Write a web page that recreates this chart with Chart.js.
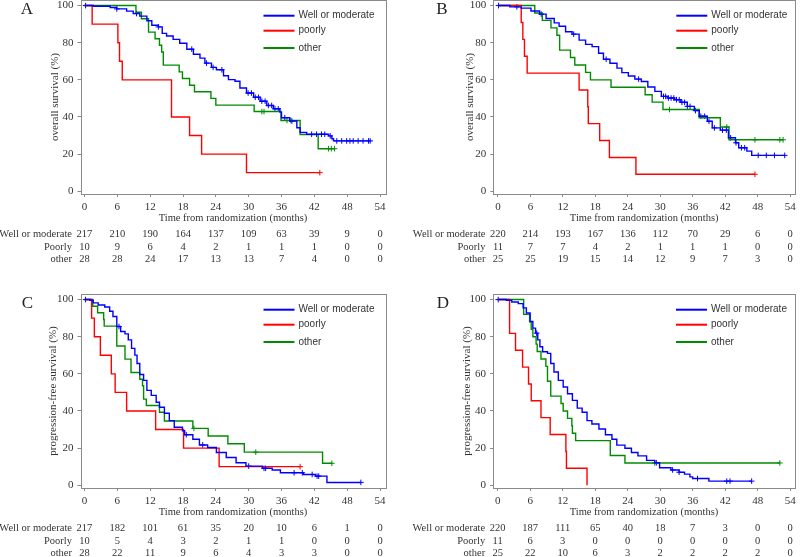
<!DOCTYPE html>
<html>
<head>
<meta charset="utf-8">
<script src="https://cdn.jsdelivr.net/npm/chart.js@4.4.1/dist/chart.umd.min.js"></script>
<style>
html, body { margin: 0; padding: 0; background: #fff; width: 800px; height: 557px; overflow: hidden; position: relative; }
canvas { position: absolute; }
</style>
</head>
<body>
<canvas id="panel-a" width="400" height="282" style="left:0;top:-14px"></canvas>
<canvas id="panel-b" width="400" height="282" style="left:400px;top:-14px"></canvas>
<canvas id="panel-c" width="400" height="282" style="left:0;top:280px"></canvas>
<canvas id="panel-d" width="400" height="282" style="left:400px;top:280px"></canvas>
<script>
// tick labels
const months = [0, 6, 12, 18, 24, 30, 36, 42, 48, 54];
const yTicks = [0, 20, 40, 60, 80, 100];

const legendNames = ['Well or moderate', 'poorly', 'other'];
const rowNames = ['Well or moderate', 'Poorly', 'other'];
const lineColors = ['#0000ff', '#ff0000', '#008c00'];

// ---- A: overall survival, [month, %]
const osA_well = [[0,100],[1.6,99.6],[4.7,99.0],[5.9,98.2],[7.7,97.0],[8.9,95.7],[10.1,94.3],[11.4,91.8],[12.3,89.4],[13.5,88.5],[14.2,85.0],[15.0,83.6],[16.2,81.8],[17.4,79.7],[18.7,76.5],[19.9,73.8],[21.1,71.7],[22.0,69.0],[23.2,66.7],[24.1,65.4],[25.4,62.2],[26.3,60.1],[27.5,59.2],[28.4,55.6],[29.6,52.9],[30.9,50.6],[32.1,48.5],[33.3,46.2],[34.5,44.4],[35.7,42.6],[36.0,39.6],[37.5,37.8],[38.8,34.2],[39.4,31.6],[40.6,30.7],[44.6,29.8],[45.2,28.3],[45.5,27.1],[52.2,27.1]];
const osA_poorly = [[0,100],[1.4,90],[6.1,80],[6.4,70],[6.9,60],[15.9,40],[19.2,30],[21.4,20],[29.6,10],[43.0,10]];
const osA_other = [[0,100],[9.4,96.4],[10.4,92.9],[11.7,85.7],[12.9,82.1],[13.7,78.6],[14.1,75.0],[14.4,67.9],[17.3,64.3],[17.9,60.7],[19.2,57.1],[20.1,53.6],[23.1,50.0],[24.0,46.4],[31.0,42.9],[35.9,38.1],[39.4,30.5],[42.7,22.9],[45.7,22.9]];
const osA_wellCens = [0.2,5.9,9.5,13.5,19.6,22.3,23.5,25.1,29.9,30.5,31.2,31.8,32.4,33.0,33.6,34.2,34.8,35.4,36.6,37.9,41.5,42.4,43.3,43.9,44.9,46.1,47.0,47.9,48.5,49.1,50.0,50.9,51.9,52.2];
const osA_poorlyCens = [43.0];
const osA_otherCens = [32.4,32.8,37.0,37.7,44.6,45.1,45.7];
const riskA_well = [217,210,190,164,137,109,63,39,9,0];
const riskA_poorly = [10,9,6,4,2,1,1,1,0,0];
const riskA_other = [28,28,24,17,13,13,7,4,0,0];

// ---- B: overall survival
const osB_well = [[0,100],[2.2,99.3],[4.3,98.6],[6.1,97.1],[7.7,95.4],[8.9,93.0],[10.4,90.7],[11.3,88.9],[12.5,85.9],[13.7,84.6],[15.0,81.4],[16.2,79.1],[17.4,77.9],[18.6,74.3],[19.5,71.1],[20.7,68.9],[22.0,66.3],[22.9,63.9],[24.1,62.1],[25.3,60.4],[26.5,59.1],[27.7,56.1],[29.0,53.8],[30.2,51.1],[31.4,50.2],[32.6,49.3],[33.8,47.9],[35.0,45.7],[36.3,43.4],[37.2,40.4],[38.7,37.7],[39.6,34.1],[41.1,32.9],[42.6,28.8],[43.9,26.1],[44.5,23.4],[46.0,21.6],[46.9,19.3],[53.0,19.3]];
const osB_poorly = [[0,100],[4.3,90.9],[4.6,81.8],[4.9,72.7],[5.4,63.6],[15.0,54.5],[16.6,45.5],[16.7,36.4],[18.8,27.3],[20.6,18.2],[25.5,9.1],[47.5,9.1]];
const osB_other = [[0,100],[6.8,96],[8.2,92],[9.8,88],[10.9,84],[11.4,76],[13.4,72],[14.2,68],[16.2,64],[17.1,60],[20.9,56],[27.2,52],[28.5,48],[30.5,44],[37.2,39.6],[41.1,34.6],[42.7,27.7],[52.7,27.7]];
const osB_wellCens = [0.1,3.5,8.0,14.0,20.0,26.0,30.6,31.0,31.5,32.0,32.5,33.0,33.5,34.0,34.5,35.0,35.5,36.5,37.5,38.2,39.0,40.0,41.5,42.2,43.0,44.0,45.0,45.6,48.1,49.6,51.1,53.0];
const osB_poorlyCens = [47.5];
const osB_otherCens = [31.7,42.3,47.5,52.1,52.7];
const riskB_well = [220,214,193,167,136,112,70,29,6,0];
const riskB_poorly = [11,7,7,4,2,1,1,1,0,0];
const riskB_other = [25,25,19,15,14,12,9,7,3,0];

// ---- C: progression-free survival
const pfsC_well = [[0,100],[1.0,99.6],[1.6,98.2],[2.5,97.1],[3.7,96.0],[4.6,93.7],[5.2,90.9],[5.9,85.5],[6.6,82.8],[7.4,81.5],[8.0,78.3],[8.6,73.7],[9.2,70.1],[9.6,65.6],[10.1,59.6],[10.8,56.5],[11.4,51.1],[12.2,48.4],[13.1,44.7],[13.7,42.0],[14.6,38.8],[15.5,34.8],[16.4,31.2],[17.9,29.3],[18.3,27.2],[19.8,24.8],[21.0,21.7],[22.5,20.3],[24.1,17.6],[25.9,14.9],[27.7,12.1],[29.5,10.3],[32.5,9.1],[34.3,8.2],[35.8,6.7],[40.0,5.8],[42.2,4.9],[44.3,1.5],[50.5,1.5]];
const pfsC_poorly = [[0,100],[1.3,90],[1.8,80],[2.9,70],[4.9,60],[5.6,50],[7.7,40],[13.0,30],[18.1,20],[24.6,10],[39.4,10]];
const pfsC_other = [[0,100],[1.5,96.4],[2.4,92.9],[3.5,89.3],[3.6,85.7],[5.9,75.0],[7.4,67.9],[8.5,60.7],[10.1,57.1],[10.6,53.6],[10.8,46.4],[11.3,42.9],[13.7,39.3],[14.6,34.6],[19.8,30.6],[22.6,26.5],[26.2,22.3],[29.2,17.8],[43.5,11.8],[45.2,11.8]];
const pfsC_wellCens = [0.2,6.3,18.6,21.6,30.0,32.8,33.1,38.3,39.8,41.6,42.5,42.8,50.5];
const pfsC_poorlyCens = [39.4];
const pfsC_otherCens = [20.0,31.3,45.2];
const riskC_well = [217,182,101,61,35,20,10,6,1,0];
const riskC_poorly = [10,5,4,3,2,1,1,0,0,0];
const riskC_other = [28,22,11,9,6,4,3,3,0,0];

// ---- D: progression-free survival
const pfsD_well = [[0,100],[1.6,99.6],[2.6,98.7],[3.8,97.8],[4.7,95.5],[5.3,92.8],[6.0,88.2],[6.5,84.6],[7.0,81.9],[7.4,78.3],[7.8,74.6],[8.3,71.9],[9.2,71.0],[9.8,65.6],[10.4,61.0],[11.2,56.5],[12.1,52.9],[12.9,49.3],[13.8,45.7],[14.7,41.5],[15.6,39.3],[16.5,34.8],[17.4,33.0],[18.7,30.3],[19.9,27.2],[21.1,24.8],[22.0,21.6],[23.5,19.9],[24.7,17.6],[25.9,15.8],[27.5,13.4],[29.0,12.1],[29.9,9.4],[32.0,8.2],[33.5,7.0],[34.5,6.0],[35.5,4.5],[36.0,3.6],[39.0,2.2],[46.9,2.2]];
const pfsD_poorly = [[0,100],[2.2,81.8],[3.3,72.7],[4.6,63.6],[5.7,54.5],[6.2,45.5],[8.0,36.4],[9.7,27.3],[12.6,18.2],[12.7,9.1],[16.5,0]];
const pfsD_other = [[0,100],[4.8,92],[5.9,88],[6.2,84],[6.5,80],[7.1,76],[7.3,72],[8.0,68],[8.9,64],[9.2,56],[9.8,48],[11.7,44],[12.1,40],[12.9,36],[13.7,32],[13.8,28],[14.4,24],[20.8,16],[23.5,12],[52.1,12]];
const pfsD_wellCens = [0.1,7.2,29.3,32.3,33.5,36.9,42.3,42.9,46.9];
const pfsD_poorlyCens = [];
const pfsD_otherCens = [29.0,52.1];
const riskD_well = [220,187,111,65,40,18,7,3,0,0];
const riskD_poorly = [11,6,3,0,0,0,0,0,0,0];
const riskD_other = [25,22,10,6,3,2,2,2,2,0];

// value of the KM step at time t (for placing censor marks on the curve)
function stepValue(curve, t) {
    let v = curve[0][1];
    curve.forEach(p => { if (p[0] <= t) v = p[1]; });
    return v;
}

const serif = 'Liberation Serif, Times New Roman, serif';
const sans = 'Liberation Sans, Arial, sans-serif';

const panelDecor = {
    id: 'panelDecor',
    afterDatasetsDraw(chart) {
        const {ctx, chartArea: a} = chart;
        ctx.save();
        ctx.strokeStyle = '#8a8a8a';
        ctx.lineWidth = 1;
        ctx.strokeRect(Math.round(a.left) + 0.5, Math.round(a.top) + 0.5, Math.round(a.right - a.left), Math.round(a.bottom - a.top));
        ctx.restore();
    },
    afterDraw(chart, args, opts) {
        const {ctx, chartArea: a, scales: {x}} = chart;
        ctx.save();

        // panel letter
        ctx.fillStyle = '#222';
        ctx.font = '17px ' + serif;
        ctx.textAlign = 'center';
        ctx.textBaseline = 'middle';
        ctx.fillText(opts.letter, opts.letterX, 23.5);

        // legend
        const legendY = [15.7, 30.7, 48];
        ctx.font = '10px ' + sans;
        ctx.textAlign = 'left';
        legendNames.forEach((name, i) => {
            const y = a.top + legendY[i];
            ctx.strokeStyle = lineColors[i];
            ctx.lineWidth = 2;
            ctx.beginPath();
            ctx.moveTo(a.left + 183, y);
            ctx.lineTo(a.left + 214, y);
            ctx.stroke();
            ctx.fillStyle = '#333';
            ctx.fillText(name, a.left + 218, y);
        });

        // number at risk
        const rowY = [234.5, 246.8, 258.8];
        ctx.font = '10.5px ' + serif;
        ctx.fillStyle = '#333';
        opts.risk.forEach((row, i) => {
            const y = a.top + rowY[i];
            ctx.textAlign = 'right';
            ctx.fillText(rowNames[i], x.getPixelForValue(0) - 12.5, y);
            ctx.textAlign = 'center';
            row.forEach((n, j) => ctx.fillText(String(n), x.getPixelForValue(months[j]), y));
        });
        ctx.restore();
    }
};

function makePanel(id, p) {
    const datasets = [];
    p.curves.forEach((curve, i) => {
        datasets.push({
            data: curve.map(pt => ({x: pt[0], y: pt[1]})),
            borderColor: lineColors[i],
            borderWidth: 1.4,
            stepped: true,
            pointRadius: 0,
            fill: false
        });
    });
    p.censors.forEach((times, i) => {
        datasets.push({
            data: times.map(t => ({x: t, y: stepValue(p.curves[i], t)})),
            showLine: false,
            pointStyle: 'cross',
            pointRadius: 2.8,
            pointBorderWidth: 1,
            borderColor: lineColors[i],
            backgroundColor: lineColors[i]
        });
    });

    new Chart(document.getElementById(id), {
        type: 'line',
        data: {datasets: datasets},
        options: {
            responsive: false,
            animation: false,
            events: [],
            layout: {padding: {top: 14, right: 400 - p.boxRight, left: 0, bottom: 0}},
            plugins: {
                legend: {display: false},
                tooltip: {enabled: false},
                panelDecor: {letter: p.letter, letterX: p.letterX, risk: p.risk}
            },
            scales: {
                x: {
                    type: 'linear',
                    min: p.xMin,
                    max: p.xMax,
                    afterBuildTicks: s => { s.ticks = months.map(v => ({value: v})); },
                    afterFit: s => { s.height = 74; s.paddingLeft = 0; s.paddingRight = 0; },
                    border: {display: false},
                    grid: {drawOnChartArea: false, tickLength: 3, color: '#8a8a8a'},
                    ticks: {padding: 4, color: '#333', autoSkip: false, maxRotation: 0, font: {family: serif, size: 11}},
                    title: {
                        display: true,
                        text: 'Time from randomization (months)',
                        color: '#333',
                        font: {family: serif, size: 10.5},
                        padding: {top: 0, bottom: 43.7}
                    }
                },
                y: {
                    min: -1.5,
                    max: 103,
                    afterBuildTicks: s => { s.ticks = yTicks.map(v => ({value: v})); },
                    afterFit: s => { s.width = p.boxLeft; s.paddingTop = 0; s.paddingBottom = 0; },
                    border: {display: false},
                    grid: {drawOnChartArea: false, tickLength: 3, color: '#8a8a8a'},
                    ticks: {padding: 4, color: '#333', font: {family: serif, size: 11}},
                    title: {
                        display: true,
                        text: p.yTitle,
                        color: '#333',
                        font: {family: serif, size: 11},
                        padding: {top: p.yTitleX - 6.6, bottom: 0}
                    }
                }
            }
        },
        plugins: [panelDecor]
    });
}

makePanel('panel-a', {
    letter: 'A', letterX: 27, yTitle: 'overall survival (%)', yTitleX: 55,
    boxLeft: 80.5, boxRight: 385.5, xMin: -0.73, xMax: 55.0,
    curves: [osA_well, osA_poorly, osA_other],
    censors: [osA_wellCens, osA_poorlyCens, osA_otherCens],
    risk: [riskA_well, riskA_poorly, riskA_other]
});
makePanel('panel-b', {
    letter: 'B', letterX: 42, yTitle: 'overall survival (%)', yTitleX: 70,
    boxLeft: 93.3, boxRight: 399, xMin: -0.86, xMax: 54.9,
    curves: [osB_well, osB_poorly, osB_other],
    censors: [osB_wellCens, osB_poorlyCens, osB_otherCens],
    risk: [riskB_well, riskB_poorly, riskB_other]
});
makePanel('panel-c', {
    letter: 'C', letterX: 27.5, yTitle: 'progression-free survival (%)', yTitleX: 53,
    boxLeft: 80.5, boxRight: 385.5, xMin: -0.73, xMax: 55.0,
    curves: [pfsC_well, pfsC_poorly, pfsC_other],
    censors: [pfsC_wellCens, pfsC_poorlyCens, pfsC_otherCens],
    risk: [riskC_well, riskC_poorly, riskC_other]
});
makePanel('panel-d', {
    letter: 'D', letterX: 43, yTitle: 'progression-free survival (%)', yTitleX: 67,
    boxLeft: 93, boxRight: 399, xMin: -0.86, xMax: 54.9,
    curves: [pfsD_well, pfsD_poorly, pfsD_other],
    censors: [pfsD_wellCens, pfsD_poorlyCens, pfsD_otherCens],
    risk: [riskD_well, riskD_poorly, riskD_other]
});
</script>
</body>
</html>
